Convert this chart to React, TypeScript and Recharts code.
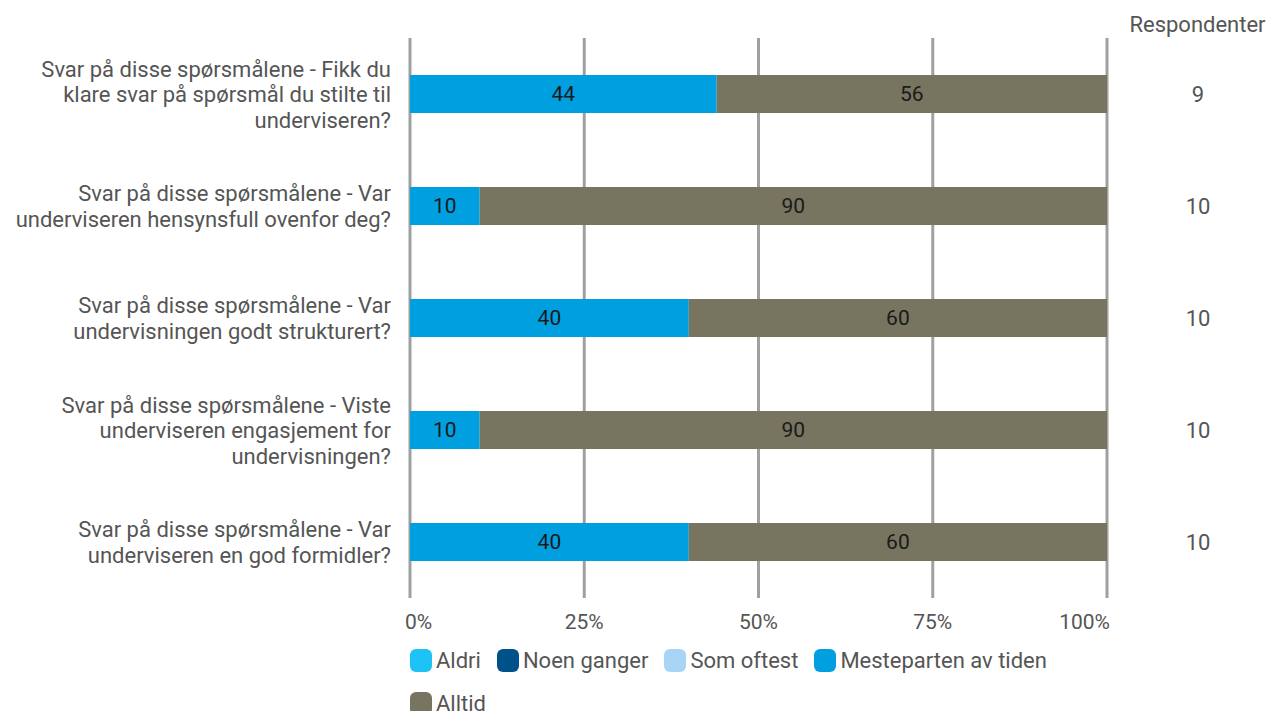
import React from 'react';
import { BarChart, Bar, XAxis, YAxis, CartesianGrid, Legend, LabelList } from 'recharts';

const categories = [
  'Svar på disse spørsmålene - Fikk du\nklare svar på spørsmål du stilte til\nunderviseren?',
  'Svar på disse spørsmålene - Var\nunderviseren hensynsfull ovenfor deg?',
  'Svar på disse spørsmålene - Var\nundervisningen godt strukturert?',
  'Svar på disse spørsmålene - Viste\nunderviseren engasjement for\nundervisningen?',
  'Svar på disse spørsmålene - Var\nunderviseren en god formidler?',
];
const aldri = [0, 0, 0, 0, 0];
const noenGanger = [0, 0, 0, 0, 0];
const somOftest = [0, 0, 0, 0, 0];
const mesteparten = [44, 10, 40, 10, 40];
const alltid = [56, 90, 60, 90, 60];
const respondenter = [9, 10, 10, 10, 10];
const xTicks = [0, 25, 50, 75, 100];
const seriesKeys = ['aldri', 'noen', 'som', 'mest', 'alltid'];
const seriesNames = ['Aldri', 'Noen ganger', 'Som oftest', 'Mesteparten av tiden', 'Alltid'];
const seriesColors = ['#1fc2f5', '#00508a', '#a8d4f5', '#009fe0', '#77745f'];
const headerText = 'Respondenter';

const data = categories.map((name, i) => ({
  name,
  aldri: aldri[i],
  noen: noenGanger[i],
  som: somOftest[i],
  mest: mesteparten[i],
  alltid: alltid[i],
  resp: respondenter[i],
}));

const TEXT = '#555';
const FONT = 'Roboto, "Noto Sans", sans-serif';
const FS = 22;

const LeftTick = (props: any) => {
  const { x, y, payload } = props;
  const lines = String(payload.value).split('\n');
  const lh = 25.5;
  const startY = y - ((lines.length - 1) * lh) / 2;
  return (
    <text x={x - 11} y={startY} textAnchor="end" fill={TEXT} fontSize={FS} fontFamily={FONT} dominantBaseline="central">
      {lines.map((l, i) => (
        <tspan key={i} x={x - 11} y={startY + i * lh}>
          {l}
        </tspan>
      ))}
    </text>
  );
};

const RightTick = (props: any) => {
  const { x, y, index } = props;
  return (
    <text x={x + 83} y={y} textAnchor="middle" fill={TEXT} fontSize={FS} fontFamily={FONT} dominantBaseline="central">
      {respondenter[index]}
    </text>
  );
};

const XTick = (props: any) => {
  const { x, y, payload, index } = props;
  const n = xTicks.length;
  let anchor: any = 'middle';
  let dx = 0;
  if (index === 0) { anchor = 'start'; dx = -5; }
  else if (index === n - 1) { anchor = 'end'; dx = 3; }
  return (
    <text x={x + dx} y={y + 16} textAnchor={anchor} fill={TEXT} fontSize={21} fontFamily={FONT} dominantBaseline="central">
      {`${payload.value}%`}
    </text>
  );
};

const LegendContent = (props: any) => {
  const payload = [...(props.payload || [])].sort(
    (a: any, b: any) => seriesNames.indexOf(a.value) - seriesNames.indexOf(b.value)
  );
  return (
    <div style={{ display: 'flex', flexWrap: 'wrap', columnGap: 16, rowGap: 19, paddingTop: 10, fontFamily: FONT }}>
      {payload.map((p: any, i: number) => (
        <div key={i} style={{ display: 'flex', alignItems: 'center', height: 24, fontSize: FS, color: TEXT }}>
          <span style={{ display: 'inline-block', width: 22, height: 23, borderRadius: 6, background: p.color, marginRight: 4 }} />
          <span>{p.value}</span>
        </div>
      ))}
    </div>
  );
};

const labelFmt = (v: any) => (v ? v : '');

export default function App() {
  return (
    <div style={{ position: 'relative', width: 1262, height: 703, fontFamily: FONT }}>
      <div style={{ position: 'absolute', left: 1108, width: 163, top: 4, textAlign: 'center', fontSize: FS, color: TEXT, fontFamily: FONT }}>
        {headerText}
      </div>
      <BarChart
        width={1262}
        height={703}
        data={data}
        layout="vertical"
        margin={{ top: 30, right: 0, bottom: 0, left: 0 }}
        barSize={38}
      >
        <CartesianGrid horizontal={false} stroke="#a0a0a0" strokeWidth={3} />
        <XAxis
          type="number"
          domain={[0, 100]}
          ticks={xTicks}
          axisLine={false}
          tickLine={false}
          height={40}
          tick={<XTick />}
          interval={0}
        />
        <YAxis type="category" dataKey="name" width={402} axisLine={false} tickLine={false} tick={<LeftTick />} interval={0} />
        <YAxis yAxisId="right" orientation="right" type="category" dataKey="name" width={163} axisLine={false} tickLine={false} tick={<RightTick />} interval={0} />
        <Legend
          verticalAlign="bottom"
          align="left"
          content={<LegendContent />}
          wrapperStyle={{ left: 402, width: 705, height: 73, overflow: 'visible' }}
        />
        {seriesKeys.map((k, i) => (
          <Bar key={k} dataKey={k} name={seriesNames[i]} stackId="a" fill={seriesColors[i]} isAnimationActive={false}>
            {k === 'mest' || k === 'alltid' ? (
              <LabelList dataKey={k} position="center" fill="#1a1a1a" fontSize={21} fontFamily={FONT} formatter={labelFmt} />
            ) : null}
          </Bar>
        ))}
      </BarChart>
    </div>
  );
}
